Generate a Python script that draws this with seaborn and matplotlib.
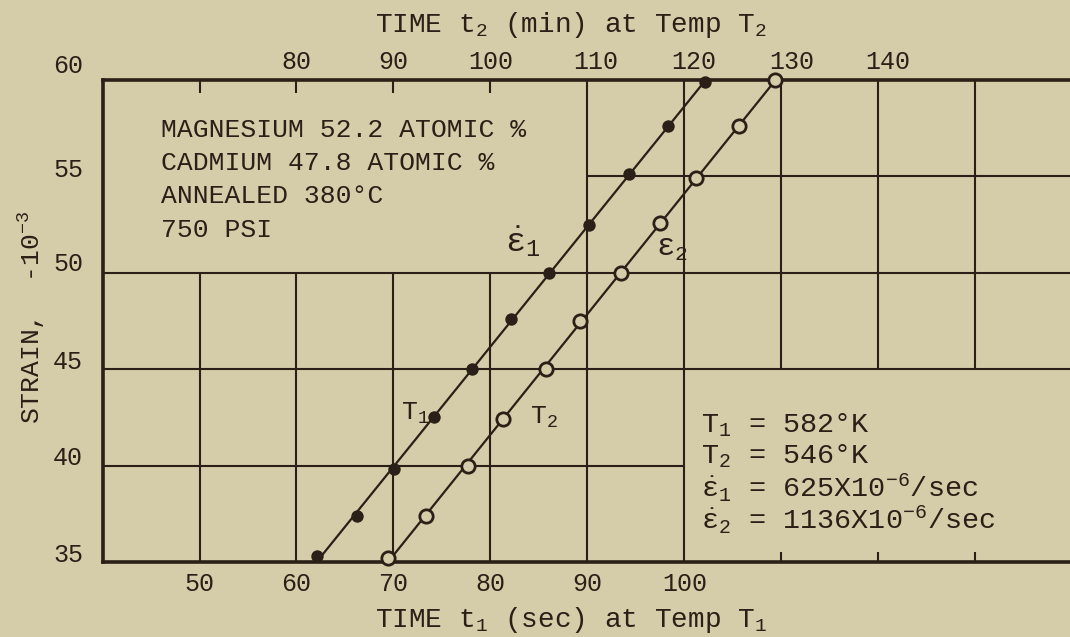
import numpy as np
import pandas as pd
import matplotlib
matplotlib.use("Agg")
import matplotlib.pyplot as plt
import matplotlib.transforms as mtransforms
import seaborn as sns

# ---------------- data ----------------
time_t1_sec = [62.1, 66.2, 70.1, 74.2, 78.1, 82.1, 86.0, 90.2, 94.3, 98.3, 102.1]
strain_t1 = [35.3, 37.4, 39.8, 42.5, 45.0, 47.6, 50.0, 52.5, 55.1, 57.6, 59.9]

time_t2_min = [89.4, 93.3, 97.7, 101.3, 105.7, 109.2, 113.5, 117.5, 121.2, 125.6, 129.3]
strain_t2 = [35.2, 37.4, 40.0, 42.4, 45.0, 47.5, 50.0, 52.6, 54.9, 57.6, 60.0]

bottom_ticks = [50, 60, 70, 80, 90, 100]
top_ticks = [80, 90, 100, 110, 120, 130, 140]
strain_ticks = [35, 40, 45, 50, 55, 60]

# partial grid of the hand-drawn chart (values in t1 / strain units)
grid_v_full = [90, 100]
grid_v_low = [50, 60, 70, 80]      # from bottom up to strain 50
grid_v_high = [110, 120, 130]      # from strain 45 up to top
grid_h_full = [45, 50]
grid_h_right = [55]                # from t1 = 90 to the right
grid_h_left = [40]                 # from the left to t1 = 100
top_inner_ticks = [50, 60, 70, 80]
bottom_inner_ticks = [110, 120, 130]

info_lines = ["MAGNESIUM 52.2 ATOMIC %", "CADMIUM 47.8 ATOMIC %",
              "ANNEALED 380°C", "750 PSI"]
const_lines = [r"T$_1$ = 582°K", r"T$_2$ = 546°K",
               r"$\dot{\epsilon}_1$ = 625X10$^{-6}$/sec",
               r"$\dot{\epsilon}_2$ = 1136X10$^{-6}$/sec"]

# ---------------- style ----------------
BG = "#D5CDA9"
INK = "#2A2017"

sns.set_theme(style="white")
plt.rcParams["font.family"] = ["Liberation Mono", "DejaVu Sans"]
plt.rcParams["mathtext.fontset"] = "custom"
plt.rcParams["mathtext.rm"] = "Liberation Mono"
plt.rcParams["mathtext.it"] = "Liberation Mono"
plt.rcParams["mathtext.bf"] = "Liberation Mono:bold"
plt.rcParams["text.color"] = INK

XLIM = (40, 140)
YLIM = (35, 60)
T2_OFFSET = 20  # top axis t2 = t1 + 20 on the drawn scale

fig = plt.figure(figsize=(10.7, 6.37), dpi=100, facecolor=BG)
ax = fig.add_axes([0.0958, 0.1177, 0.9065, 0.7567])
ax.set_facecolor(BG)
ax.set_xlim(*XLIM)
ax.set_ylim(*YLIM)

GW = 1.5
# grid segments
ax.vlines(grid_v_full, YLIM[0], YLIM[1], color=INK, lw=GW, zorder=1)
ax.vlines(grid_v_low, YLIM[0], 50, color=INK, lw=GW, zorder=1)
ax.vlines(grid_v_high, 45, YLIM[1], color=INK, lw=GW, zorder=1)
ax.hlines(grid_h_full, XLIM[0], XLIM[1], color=INK, lw=GW, zorder=1)
ax.hlines(grid_h_right, 90, XLIM[1], color=INK, lw=GW, zorder=1)
ax.hlines(grid_h_left, XLIM[0], 100, color=INK, lw=GW, zorder=1)
ax.vlines(top_inner_ticks, YLIM[1] - 0.65, YLIM[1], color=INK, lw=GW, zorder=1)
ax.vlines(bottom_inner_ticks, YLIM[0], YLIM[0] + 0.5, color=INK, lw=GW, zorder=1)

# spines
for s in ["left", "top", "bottom"]:
    ax.spines[s].set_visible(True)
    ax.spines[s].set_color(INK)
    ax.spines[s].set_linewidth(2.6)
ax.spines["right"].set_visible(False)

# series 1 (T1, filled dots) on the bottom axis
df1 = pd.DataFrame({"t": time_t1_sec, "strain": strain_t1})
a1, b1 = np.polyfit(df1["strain"], df1["t"], 1)
line1 = pd.DataFrame({"strain": list(YLIM)})
line1["t"] = a1 * line1["strain"] + b1
sns.lineplot(data=line1, x="t", y="strain", ax=ax, color=INK, lw=1.6,
             sort=False, zorder=2)
sns.scatterplot(data=df1, x="t", y="strain", ax=ax, color=INK, s=80,
                edgecolor=INK, linewidth=0, zorder=3, clip_on=False)

# ticks and labels on the main axes
FS = 18
ax.set_xticks(bottom_ticks)
ax.set_xticklabels([str(v) for v in bottom_ticks])
ax.set_yticks(strain_ticks)
ax.set_yticklabels([str(v) for v in strain_ticks])
ax.tick_params(axis="x", length=0, pad=7, labelsize=FS, colors=INK)
ax.tick_params(axis="y", length=0, pad=14, labelsize=FS, colors=INK)

# series 2 (T2, open circles) on the top axis
ax2 = ax.twiny()
ax2.set_xlim(XLIM[0] + T2_OFFSET, XLIM[1] + T2_OFFSET)
df2 = pd.DataFrame({"t": time_t2_min, "strain": strain_t2})
a2, b2 = np.polyfit(df2["strain"], df2["t"], 1)
line2 = pd.DataFrame({"strain": list(YLIM)})
line2["t"] = a2 * line2["strain"] + b2
sns.lineplot(data=line2, x="t", y="strain", ax=ax2, color=INK, lw=1.6,
             sort=False, zorder=2)
sns.scatterplot(data=df2, x="t", y="strain", ax=ax2, color=BG, s=92,
                edgecolor=INK, linewidth=2.0, zorder=3, clip_on=False)
for s in ax2.spines.values():
    s.set_visible(False)
ax2.set_ylabel("")
ax2.set_xticks(top_ticks)
ax2.set_xticklabels([str(v) for v in top_ticks])
ax2.tick_params(axis="x", length=0, pad=4, labelsize=FS, colors=INK)
ax2.tick_params(axis="y", left=False, right=False, labelleft=False, labelright=False)
ax.set_ylim(*YLIM)

# hand-lettered tick labels sit a little off their lines
y_label_lift_px = [10, 10, 10, 11, 9, 17]
for lab, lift in zip(ax.get_yticklabels(), y_label_lift_px):
    off = mtransforms.ScaledTranslation(0, lift / 100, fig.dpi_scale_trans)
    lab.set_transform(lab.get_transform() + off)
top_label_shift_px = [0, 0, 0, 8, 9, 10, 9]
for lab, sh in zip(ax2.get_xticklabels(), top_label_shift_px):
    off = mtransforms.ScaledTranslation(sh / 100, 0, fig.dpi_scale_trans)
    lab.set_transform(lab.get_transform() + off)

TFS = 20
ax.set_xlabel(r"TIME t$_1$ (sec) at Temp T$_1$", fontsize=TFS, color=INK)
ax.xaxis.set_label_coords(0.483, -0.121)
ax.xaxis.label.set_va("center")
ax2.set_xlabel(r"TIME t$_2$ (min) at Temp T$_2$", fontsize=TFS, color=INK)
ax2.xaxis.set_label_position("top")
ax2.xaxis.set_label_coords(0.483, 1.114)
ax2.xaxis.label.set_va("center")
ax.set_ylabel(r"STRAIN,  -10$^{-3}$", fontsize=19, color=INK)
ax.yaxis.set_label_coords(-0.073, 0.508)
ax.yaxis.label.set_va("center")

# annotations
for i, txt in enumerate(info_lines):
    ax.text(46.0, 57.4 - i * 1.72, txt, fontsize=19, color=INK,
            ha="left", va="center", zorder=4)
for i, txt in enumerate(const_lines):
    ax.text(101.7, 42.1 - i * 1.63, txt, fontsize=20.5, color=INK,
            ha="left", va="center", zorder=4)

ax.text(72.2, 42.7, r"T$_1$", fontsize=19, color=INK, ha="center", va="center", zorder=4)
ax.text(85.5, 42.5, r"T$_2$", fontsize=19, color=INK, ha="center", va="center", zorder=4)
ax.text(83.3, 51.6, r"$\dot{\epsilon}_1$", fontsize=24, color=INK, ha="center", va="center", zorder=4)
ax.text(98.7, 51.3, r"$\epsilon_2$", fontsize=22, color=INK, ha="center", va="center", zorder=4)

fig.savefig("out.png", dpi=100, facecolor=BG)
